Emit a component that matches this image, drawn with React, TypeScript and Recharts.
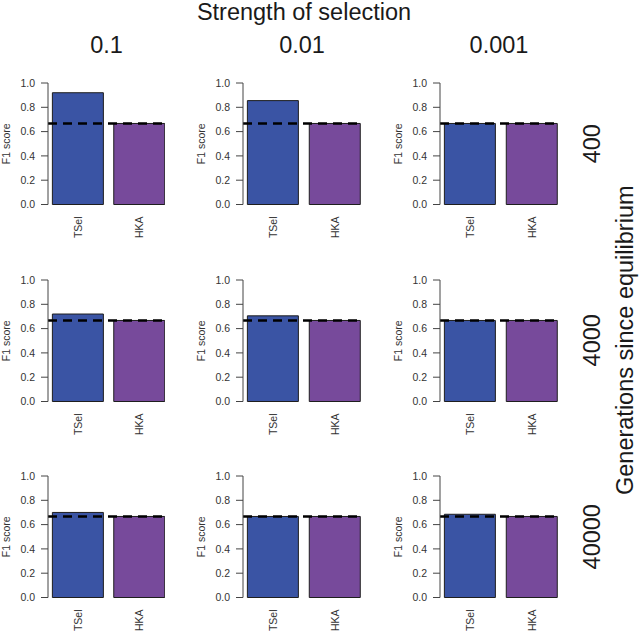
import { BarChart, Bar, Cell, XAxis, YAxis, ReferenceLine } from "recharts";

const methods = ["TSel", "HKA"];
const strengths = ["0.1", "0.01", "0.001"];
const generations = ["400", "4000", "40000"];

// F1 score per generation row, one value per strength column
const tselScores = [
  [0.92, 0.855, 0.667],
  [0.72, 0.705, 0.667],
  [0.7, 0.667, 0.685],
];
const hkaScores = [
  [0.667, 0.667, 0.667],
  [0.667, 0.667, 0.667],
  [0.667, 0.667, 0.667],
];
const neutralScore = 0.667;
const yTicks = [0, 0.2, 0.4, 0.6, 0.8, 1.0];

const COLORS = ["#3a54a4", "#774a9b"];
const FONT = "'Liberation Sans', Arial, Helvetica, sans-serif";
const TEXT = "#333";

// layout of the 3x3 grid
const AXIS_X = [48, 243, 440];
const PLOT_W = [117, 118, 118];
const PLOT_TOP = [83, 279.5, 476];
const PLOT_H = 121.5;
const LEFT_PAD = 6;
const Y_AXIS_W = 45;
const X_AXIS_H = 45;
const TOP_PAD = 8;

// barplot midpoints, width 1 and space 0.2
const barMid = (i: number) => 0.7 + 1.2 * i;

const MethodTick = ({ x, y, payload }: any) => {
  const idx = Math.round((payload.value - 0.7) / 1.2);
  return (
    <text
      transform={`translate(${x + 3.8},${y + 12}) rotate(-90)`}
      textAnchor="end"
      fontSize={10.5}
      fontFamily={FONT}
      fill={TEXT}
    >
      {methods[idx]}
    </text>
  );
};

function Panel({ row, col }: { row: number; col: number }) {
  const data = methods.map((m, i) => ({
    method: m,
    pos: barMid(i),
    score: i === 0 ? tselScores[row][col] : hkaScores[row][col],
  }));
  const width = LEFT_PAD + Y_AXIS_W + PLOT_W[col] + 4;
  const height = TOP_PAD + PLOT_H + X_AXIS_H;

  return (
    <div
      style={{
        position: "absolute",
        left: AXIS_X[col] - Y_AXIS_W - LEFT_PAD,
        top: PLOT_TOP[row] - TOP_PAD,
      }}
    >
      <BarChart
        width={width}
        height={height}
        data={data}
        margin={{ top: TOP_PAD, right: 4, left: LEFT_PAD, bottom: 0 }}
      >
        <XAxis
          dataKey="pos"
          type="number"
          domain={[0.112, 2.4]}
          ticks={data.map((d) => d.pos)}
          allowDataOverflow
          axisLine={false}
          tickLine={false}
          tickSize={0}
          tickMargin={0}
          height={X_AXIS_H}
          tick={<MethodTick />}
          interval={0}
        />
        <YAxis
          width={Y_AXIS_W}
          domain={[0, 1]}
          ticks={yTicks}
          tickFormatter={(v: number) => v.toFixed(1)}
          tickSize={7}
          tickMargin={6}
          tick={{ fill: TEXT, fontSize: 10.5, fontFamily: FONT }}
          axisLine={{ stroke: "#444" }}
          tickLine={{ stroke: "#444" }}
          label={{
            value: "F1 score",
            angle: -90,
            position: "insideLeft",
            offset: 3,
            fill: TEXT,
            fontSize: 10.5,
            fontFamily: FONT,
            style: { textAnchor: "middle" },
          }}
        />
        <Bar
          dataKey="score"
          barSize={51}
          stroke="#1e1e1e"
          strokeWidth={1}
          isAnimationActive={false}
        >
          {data.map((d, i) => (
            <Cell key={d.method} fill={COLORS[i]} />
          ))}
        </Bar>
        <ReferenceLine
          y={neutralScore}
          stroke="#000"
          strokeWidth={2.5}
          strokeDasharray="9 6"
        />
      </BarChart>
    </div>
  );
}

export default function App() {
  return (
    <div
      style={{
        position: "absolute",
        left: 0,
        top: 0,
        width: 640,
        height: 632,
        background: "#fff",
        fontFamily: FONT,
      }}
    >
      {generations.map((g, r) =>
        strengths.map((s, c) => <Panel key={`${g}-${s}`} row={r} col={c} />)
      )}
      <svg
        width={640}
        height={632}
        style={{ position: "absolute", left: 0, top: 0, pointerEvents: "none" }}
        fontFamily={FONT}
      >
        <text x={304} y={20} textAnchor="middle" fontSize={23.5} fill="#1a1a1a">
          Strength of selection
        </text>
        {strengths.map((s, c) => (
          <text
            key={s}
            x={AXIS_X[c] + PLOT_W[c] / 2}
            y={53}
            textAnchor="middle"
            fontSize={23.5}
            fill="#1a1a1a"
          >
            {s}
          </text>
        ))}
        {generations.map((g, r) => (
          <text
            key={g}
            transform={`translate(600,${PLOT_TOP[r] + PLOT_H / 2}) rotate(-90)`}
            textAnchor="middle"
            fontSize={23.5}
            fill="#1a1a1a"
          >
            {g}
          </text>
        ))}
        <text
          transform={`translate(633,${PLOT_TOP[1] + PLOT_H / 2}) rotate(-90)`}
          textAnchor="middle"
          fontSize={23.5}
          fill="#1a1a1a"
        >
          Generations since equilibrium
        </text>
      </svg>
    </div>
  );
}
